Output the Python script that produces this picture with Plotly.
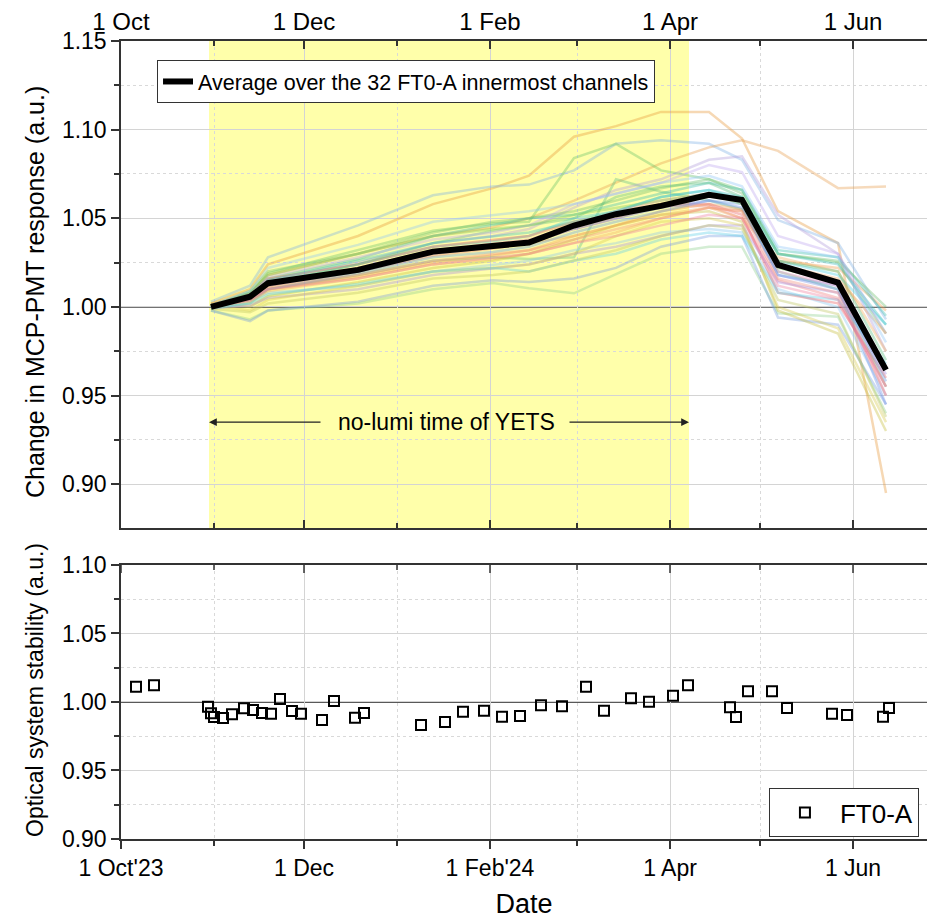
import plotly.graph_objects as go

FONT = "Liberation Sans, Arial, Helvetica, sans-serif"

# ---------------- data ----------------
node_dates = ["2023-10-31", "2023-11-13", "2023-11-19", "2023-12-19", "2024-01-13",
              "2024-02-02", "2024-02-14", "2024-02-29", "2024-03-14", "2024-03-29",
              "2024-04-14", "2024-04-25", "2024-05-07", "2024-05-27", "2024-06-12"]

avg_response = [1.000, 1.0058, 1.0134, 1.0209, 1.0312, 1.0346, 1.0363, 1.0459,
                1.0523, 1.0570, 1.0632, 1.0603, 1.0237, 1.0137, 0.9645]

ch01 = [1.002, 1.010, 1.024, 1.040, 1.058, 1.067, 1.074, 1.096, 1.102, 1.110, 1.110, 1.095, 1.054, 1.036, 0.895]
ch02 = [1.003, 1.012, 1.028, 1.046, 1.063, 1.068, 1.069, 1.077, 1.092, 1.094, 1.092, 1.083, 1.049, 1.036, 0.993]
ch03 = [1.001, 1.008, 1.018, 1.030, 1.040, 1.045, 1.050, 1.060, 1.070, 1.081, 1.090, 1.094, 1.088, 1.067, 1.068]
ch04 = [1.001, 1.007, 1.019, 1.032, 1.043, 1.047, 1.048, 1.084, 1.092, 1.077, 1.072, 1.066, 1.030, 1.025, 0.985]
ch05 = [1.000, 1.002, 1.010, 1.018, 1.026, 1.028, 1.027, 1.028, 1.072, 1.065, 1.060, 1.055, 1.020, 1.010, 0.955]
ch06 = [0.998, 0.993, 0.998, 1.002, 1.010, 1.0135, 1.0105, 1.0077, 1.0185, 1.030, 1.034, 1.034, 0.9964, 0.9945, 0.940]
ch07 = [0.998, 0.992, 0.998, 1.003, 1.012, 1.015, 1.014, 1.016, 1.022, 1.034, 1.040, 1.040, 0.994, 0.990, 0.945]
ch08 = [1.001, 1.006, 1.015, 1.025, 1.036, 1.040, 1.044, 1.056, 1.066, 1.072, 1.083, 1.085, 1.052, 1.030, 0.975]
ch09 = [1.000, 1.005, 1.012, 1.020, 1.029, 1.033, 1.036, 1.044, 1.050, 1.057, 1.057, 1.050, 1.015, 1.005, 0.955]
ch10 = [1.000, 1.006, 1.014, 1.024, 1.034, 1.037, 1.040, 1.050, 1.054, 1.062, 1.066, 1.060, 1.026, 1.018, 0.990]
ch11 = [1.002, 1.000, 1.006, 1.014, 1.022, 1.026, 1.030, 1.038, 1.046, 1.052, 1.054, 1.048, 0.998, 0.985, 0.930]
ch12 = [1.001, 1.004, 1.010, 1.017, 1.025, 1.029, 1.032, 1.040, 1.046, 1.054, 1.058, 1.055, 1.026, 1.022, 0.998]
ch13 = [1.000, 1.008, 1.016, 1.027, 1.040, 1.046, 1.050, 1.052, 1.058, 1.064, 1.070, 1.066, 1.032, 1.028, 0.995]
ch14 = [0.999, 1.003, 1.008, 1.012, 1.020, 1.024, 1.026, 1.032, 1.036, 1.042, 1.044, 1.042, 1.010, 1.000, 0.950]
ch15 = [1.001, 1.007, 1.016, 1.024, 1.034, 1.038, 1.040, 1.048, 1.052, 1.058, 1.058, 1.052, 1.008, 1.002, 0.960]
ch16 = [1.000, 1.009, 1.020, 1.030, 1.042, 1.048, 1.050, 1.054, 1.060, 1.067, 1.072, 1.064, 1.030, 1.026, 1.000]
ch17 = [0.999, 1.001, 1.005, 1.010, 1.018, 1.022, 1.024, 1.030, 1.034, 1.040, 1.046, 1.046, 1.014, 1.008, 0.962]
ch18 = [1.002, 1.006, 1.012, 1.022, 1.030, 1.034, 1.036, 1.040, 1.046, 1.052, 1.056, 1.050, 1.028, 1.020, 0.975]
ch19 = [1.000, 1.004, 1.010, 1.019, 1.028, 1.031, 1.034, 1.042, 1.048, 1.054, 1.060, 1.058, 1.018, 1.012, 0.958]
ch20 = [1.001, 0.998, 1.004, 1.012, 1.020, 1.022, 1.024, 1.030, 1.040, 1.048, 1.050, 1.046, 1.000, 0.988, 0.935]
ch21 = [1.000, 1.005, 1.013, 1.024, 1.036, 1.043, 1.046, 1.050, 1.062, 1.068, 1.070, 1.062, 1.026, 1.020, 0.970]
ch22 = [1.001, 1.006, 1.014, 1.022, 1.032, 1.036, 1.038, 1.046, 1.054, 1.060, 1.064, 1.060, 1.020, 1.012, 0.950]
ch23 = [0.999, 1.002, 1.007, 1.013, 1.020, 1.022, 1.020, 1.026, 1.030, 1.038, 1.042, 1.040, 1.008, 1.004, 0.968]
ch24 = [1.000, 1.007, 1.017, 1.028, 1.038, 1.042, 1.046, 1.058, 1.064, 1.070, 1.080, 1.076, 1.040, 1.030, 0.985]
ch25 = [1.001, 1.003, 1.009, 1.016, 1.024, 1.027, 1.030, 1.036, 1.042, 1.050, 1.056, 1.054, 1.024, 1.016, 0.985]
ch26 = [1.000, 1.005, 1.012, 1.020, 1.030, 1.034, 1.036, 1.044, 1.050, 1.056, 1.060, 1.056, 1.018, 1.010, 0.945]
ch27 = [1.001, 1.008, 1.018, 1.030, 1.040, 1.044, 1.046, 1.052, 1.056, 1.060, 1.064, 1.058, 1.022, 1.014, 0.965]
ch28 = [1.000, 1.004, 1.011, 1.018, 1.026, 1.030, 1.032, 1.038, 1.044, 1.050, 1.056, 1.054, 1.016, 1.008, 0.950]
ch29 = [0.999, 0.997, 1.002, 1.008, 1.016, 1.018, 1.020, 1.026, 1.032, 1.040, 1.046, 1.044, 1.004, 0.996, 0.938]
ch30 = [1.000, 1.006, 1.015, 1.026, 1.036, 1.040, 1.042, 1.048, 1.054, 1.062, 1.066, 1.062, 1.030, 1.024, 0.990]
ch31 = [1.001, 1.009, 1.022, 1.035, 1.048, 1.052, 1.054, 1.058, 1.064, 1.070, 1.074, 1.068, 1.034, 1.028, 0.980]
ch32 = [1.000, 1.004, 1.010, 1.016, 1.024, 1.028, 1.030, 1.036, 1.040, 1.046, 1.052, 1.050, 1.012, 1.004, 0.955]

channels = [ch01, ch02, ch03, ch04, ch05, ch06, ch07, ch08, ch09, ch10, ch11, ch12, ch13, ch14, ch15, ch16,
            ch17, ch18, ch19, ch20, ch21, ch22, ch23, ch24, ch25, ch26, ch27, ch28, ch29, ch30, ch31, ch32]

channel_colors = ["#E89A3C", "#7FB2E5", "#E8A050", "#6CC36C", "#62C08A", "#8FD28F", "#7A9FE0", "#B39DDB",
                  "#F08080", "#4DCFE0", "#C8C040", "#F0A050", "#3FBFB0", "#8CC8F0", "#E86060", "#70C070",
                  "#A890E0", "#F2B060", "#6A9AE0", "#D8CC50", "#5CC080", "#F090C0", "#60D0E8", "#C0A8F0",
                  "#F4A860", "#7090E8", "#80CC60", "#F49080", "#C0C860", "#40C0C0", "#90C8F8", "#F080A0"]

opt_dates = ["2023-10-06", "2023-10-12", "2023-10-30", "2023-10-31", "2023-11-01", "2023-11-04",
             "2023-11-07", "2023-11-11", "2023-11-14", "2023-11-17", "2023-11-20", "2023-11-23",
             "2023-11-27", "2023-11-30", "2023-12-07", "2023-12-11", "2023-12-18", "2023-12-21",
             "2024-01-09", "2024-01-17", "2024-01-23", "2024-01-30", "2024-02-05", "2024-02-11",
             "2024-02-18", "2024-02-25", "2024-03-04", "2024-03-10", "2024-03-19", "2024-03-25",
             "2024-04-02", "2024-04-07", "2024-04-21", "2024-04-23", "2024-04-27", "2024-05-05",
             "2024-05-10", "2024-05-25", "2024-05-30", "2024-06-11", "2024-06-13"]
opt_values = [1.0112, 1.0122, 0.9966, 0.9918, 0.9891, 0.9883, 0.9910, 0.9954, 0.9942, 0.9920,
              0.9915, 1.0022, 0.9934, 0.9915, 0.9869, 1.0007, 0.9885, 0.9920, 0.9832, 0.9854,
              0.9929, 0.9936, 0.9893, 0.9898, 0.9976, 0.9969, 1.0112, 0.9936, 1.0027, 1.0002,
              1.0046, 1.0122, 0.9961, 0.9891, 1.0078, 1.0078, 0.9956, 0.9915, 0.9905, 0.9893,
              0.9956]

yets_start = "2023-10-30 08:00"
yets_end = "2024-04-07 08:00"
x_range = ["2023-10-01", "2024-06-25 16:00"]
major_ticks = ["2023-10-01", "2023-12-01", "2024-02-01", "2024-04-01", "2024-06-01"]
minor_ticks = ["2023-11-01", "2024-01-01", "2024-03-01", "2024-05-01"]
top_tick_text = ["1 Oct", "1 Dec", "1 Feb", "1 Apr", "1 Jun"]
bottom_tick_text = ["1 Oct'23", "1 Dec", "1 Feb'24", "1 Apr", "1 Jun"]
top_y_ticks = [0.90, 0.95, 1.00, 1.05, 1.10, 1.15]
top_y_minor = [0.925, 0.975, 1.025, 1.075, 1.125]
bottom_y_ticks = [0.90, 0.95, 1.00, 1.05, 1.10]
bottom_y_minor = [0.925, 0.975, 1.025, 1.075]

# ---------------- figure ----------------
fig = go.Figure()

for vals, col in zip(channels, channel_colors):
    fig.add_trace(go.Scatter(x=node_dates, y=vals, mode="lines", xaxis="x", yaxis="y",
                             line=dict(color=col, width=2.5), opacity=0.38,
                             showlegend=False, hoverinfo="skip"))

fig.add_trace(go.Scatter(x=node_dates, y=avg_response, mode="lines", xaxis="x", yaxis="y",
                         name="Average over the 32 FT0-A innermost channels",
                         line=dict(color="black", width=6), legend="legend"))

fig.add_trace(go.Scatter(x=opt_dates, y=opt_values, mode="markers", xaxis="x2", yaxis="y2",
                         name="FT0-A", legend="legend2",
                         marker=dict(symbol="square-open", size=10, color="black",
                                     line=dict(color="black", width=2))))

AX = "#333333"
GRID = "#d4d4d4"
MGRID = "#d9d9d9"
ytickfont = dict(family=FONT, size=23, color="black")

common_x = dict(type="date", range=x_range, tickmode="array", tickvals=major_ticks,
                showline=True, linecolor=AX, linewidth=1.5, ticklen=8, tickwidth=1.5,
                tickcolor=AX, showgrid=True, gridcolor=GRID, gridwidth=1, zeroline=False)

# inward tick marks on the top edge of the lower panel (Origin style)
mirror_ticks = []
for d in major_ticks:
    mirror_ticks.append(dict(type="line", xref="x2", yref="y2 domain", x0=d, x1=d, y0=1, y1=1 - 8 / 274,
                             line=dict(color=AX, width=1.5), layer="above"))
for d in minor_ticks:
    mirror_ticks.append(dict(type="line", xref="x2", yref="y2 domain", x0=d, x1=d, y0=1, y1=1 - 5 / 274,
                             line=dict(color=AX, width=1.5), layer="above"))

fig.update_layout(
    width=929, height=919, autosize=False,
    margin=dict(l=121, r=2, t=41, b=80),
    paper_bgcolor="white", plot_bgcolor="white",
    font=dict(family=FONT, color="black"),
    xaxis=dict(common_x, domain=[0, 1], anchor="y", side="top", ticktext=top_tick_text,
               ticks="inside", mirror="ticks", tickfont=dict(family=FONT, size=24, color="black"),
               minor=dict(tickvals=minor_ticks, ticks="inside", ticklen=5, tickcolor=AX,
                          showgrid=True, gridcolor=MGRID, griddash="dot")),
    yaxis=dict(domain=[0.3897, 1], anchor="x", range=[0.8753, 1.15], tickmode="array",
               tickvals=top_y_ticks, tickformat=".2f", ticks="outside", ticklen=8, tickwidth=1.5,
               tickcolor=AX, showline=True, linecolor=AX, linewidth=1.5, showgrid=True,
               gridcolor=GRID, zeroline=False, tickfont=ytickfont,
               minor=dict(tickvals=top_y_minor, ticks="outside", ticklen=5, tickcolor=AX,
                          showgrid=True, gridcolor=MGRID, griddash="dot")),
    xaxis2=dict(common_x, domain=[0, 1], anchor="y2", side="bottom", ticktext=bottom_tick_text,
                ticks="outside", mirror=True, tickfont=dict(family=FONT, size=23, color="black"),
                minor=dict(tickvals=minor_ticks, ticks="outside", ticklen=5, tickcolor=AX,
                           showgrid=True, gridcolor=MGRID, griddash="dot"),
                title=dict(text="Date", font=dict(family=FONT, size=27), standoff=16)),
    yaxis2=dict(domain=[0, 0.3434], anchor="x2", range=[0.90, 1.10], tickmode="array",
                tickvals=bottom_y_ticks, tickformat=".2f", ticks="outside", ticklen=8, tickwidth=1.5,
                tickcolor=AX, showline=True, linecolor=AX, linewidth=1.5, showgrid=True,
                gridcolor=GRID, zeroline=False, tickfont=ytickfont,
                minor=dict(tickvals=bottom_y_minor, ticks="outside", ticklen=5, tickcolor=AX,
                           showgrid=True, gridcolor=MGRID, griddash="dot")),
    legend=dict(x=0.0447, y=0.9762, xanchor="left", yanchor="top", bgcolor="white",
                bordercolor=AX, borderwidth=1, font=dict(family=FONT, size=21.5),
                tracegroupgap=0, itemwidth=30),
    legend2=dict(x=0.990, y=0.0639, xanchor="right", yanchor="top", bgcolor="white",
                 bordercolor=AX, borderwidth=1, font=dict(family=FONT, size=26), itemwidth=60),
    shapes=[
        dict(type="rect", xref="x", yref="y domain", x0=yets_start, x1=yets_end, y0=0, y1=1,
             fillcolor="#FFFFAA", line=dict(width=0), layer="below"),
        dict(type="line", xref="x domain", yref="y", x0=0, x1=1, y0=1.0, y1=1.0,
             line=dict(color="#444444", width=1.5), layer="below"),
        dict(type="line", xref="x2 domain", yref="y2", x0=0, x1=1, y0=1.0, y1=1.0,
             line=dict(color="#222222", width=1.5), layer="below"),
    ] + mirror_ticks,
    annotations=[
        dict(x=0, y=(839 - 292) / 798, xref="paper", yref="paper", xshift=-86,
             text="Change in MCP-PMT response (a.u.)", textangle=-90, showarrow=False,
             xanchor="center", yanchor="middle", font=dict(family=FONT, size=25, color="black")),
        dict(x=0, y=(839 - 690) / 798, xref="paper", yref="paper", xshift=-86,
             text="Optical system stability (a.u.)", textangle=-90, showarrow=False,
             xanchor="center", yanchor="middle", font=dict(family=FONT, size=23, color="black")),
        dict(x="2024-01-17 12:00", y=0.935, xref="x", yref="y", text="no-lumi time of YETS",
             showarrow=False, font=dict(family=FONT, size=23, color="black")),
        dict(x=yets_start, y=0.935, ax="2023-12-07", ay=0.935, xref="x", yref="y",
             axref="x", ayref="y", text="", showarrow=True, arrowhead=2, arrowsize=1.3,
             arrowwidth=1.2, arrowcolor="#222222", standoff=0, startstandoff=0),
        dict(x=yets_end, y=0.935, ax="2024-02-27", ay=0.935, xref="x", yref="y",
             axref="x", ayref="y", text="", showarrow=True, arrowhead=2, arrowsize=1.3,
             arrowwidth=1.2, arrowcolor="#222222", standoff=0, startstandoff=0),
    ],
)

fig.write_html("out.html")
